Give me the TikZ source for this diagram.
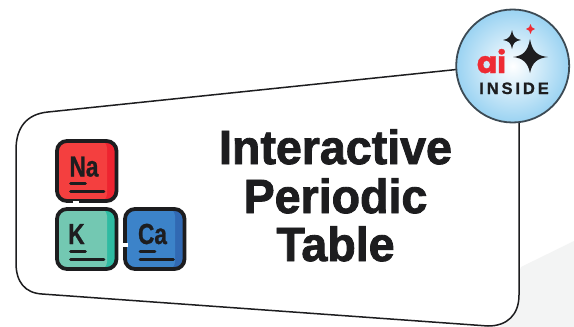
\documentclass[tikz,border=0pt]{standalone}
\usepackage{fontspec}
\setmainfont{Liberation Sans}
\newfontfamily\titlefont[FakeStretch=0.97,FakeBold=1.8]{Liberation Sans Bold}
\newfontfamily\symfont[FakeStretch=0.78,FakeBold=0.9]{Liberation Sans Bold}
\newfontfamily\aifont[FakeBold=1.2]{Poppins Bold}
\newfontfamily\insidefont[FakeBold=1]{Liberation Sans Bold}
\definecolor{ink}{HTML}{1D1D1F}
\definecolor{nared}{HTML}{F43F3F}
\definecolor{nadark}{HTML}{EE2430}
\definecolor{kgreen}{HTML}{73C8B2}
\definecolor{kdark}{HTML}{2FBBA2}
\definecolor{cablue}{HTML}{3C83C9}
\definecolor{cadark}{HTML}{3169B3}
\definecolor{skyedge}{HTML}{9BD3F2}
\definecolor{starred}{HTML}{EE2B33}
\definecolor{pale}{HTML}{F3F4F4}
\tikzset{
  x=1pt,y=-1pt,
  title/.style={font=\titlefont\fontsize{48}{48}\selectfont,text=ink,inner sep=0pt,anchor=base},
  sym/.style={font=\symfont\fontsize{29}{29}\selectfont,text=ink,inner sep=0pt,anchor=base},
  tileedge/.style={draw=ink,line width=3.8pt,rounded corners=10pt},
  tick/.style={draw=ink,line width=2.8pt,line cap=round},
}
\newcommand{\tile}[6]{% x y fill dark name tickoffset
  \begin{scope}[shift={(#1,#2)}]
    \fill[#4,rounded corners=10pt] (0,0) rectangle (59.5,60);
    \fill[#3,rounded corners=7pt] (0,0) rectangle (50,60);
    \draw[tileedge] (0,0) rectangle (59.5,60);
    \draw[tick] (#6,42.5) -- ++(15,0);
    \draw[tick] (#6,50.5) -- ++(33.5,0);
    \coordinate (#5) at (30,30);
  \end{scope}
}
\begin{document}
\begin{tikzpicture}
\useasboundingbox (0,0) rectangle (574,327);
\fill[white] (0,0) rectangle (574,327);
\fill[pale] (500,327) -- (521,267) -- (574,241) -- (574,327) -- cycle;
\draw[ink,line width=1.5pt,fill=white]
  (16,150) .. controls (16,127) and (27,114) .. (48,112)
  -- (519,63) -- (519,295)
  .. controls (519,315) and (507,326) .. (488,326)
  -- (42,294)
  .. controls (25,293) and (16,282) .. (16,263) -- cycle;
\node[title] (l1) at (335.5,164) {Interactive};
\node[title] (l2) at (335.5,213) {Periodic};
\node[title] (l3) at (335.5,261) {Table};
\tile{57}{141}{nared}{nadark}{na}{13.5}
\tile{57}{209}{kgreen}{kdark}{k}{13.5}
\tile{125}{209}{cablue}{cadark}{ca}{15}
\fill[white] (73,201) rectangle (79,205);
\fill[white] (122.5,243) rectangle (127.5,247);
\node[sym] (natext) at (84,176.5) {Na};
\node[sym] (ktext) at (76.5,244) {K};
\node[sym] (catext) at (152.5,244) {Ca};
\shade[inner color=white,outer color=skyedge,draw=none] (512.7,66) circle (56);
\draw[ink!75!skyedge,line width=1.8pt] (512.7,66) circle (56.5);
\fill[ink] (530,39) .. controls (532,51) and (537,56) .. (548,57)
  .. controls (537,58) and (532,63) .. (530,73)
  .. controls (528,63) and (523,58) .. (513,57)
  .. controls (523,56) and (528,51) .. (530,39) -- cycle;
\fill[ink] (512,30) .. controls (513,36) and (515,39) .. (521,40)
  .. controls (515,41) and (513,43) .. (512,49)
  .. controls (511,43) and (509,41) .. (503,40)
  .. controls (509,39) and (511,36) .. (512,30) -- cycle;
\fill[starred] (530.5,24) .. controls (531,27) and (532,28) .. (535,29)
  .. controls (532,30) and (531,31) .. (530.5,34)
  .. controls (530,31) and (529,30) .. (526,29)
  .. controls (529,28) and (530,27) .. (530.5,24) -- cycle;
\node[font=\aifont\fontsize{30}{30}\selectfont,text=starred,inner sep=0pt,anchor=base] (ai) at (491.5,73) {ai};
\node[font=\insidefont\fontsize{16.5}{16.5}\selectfont,text=ink,inner sep=0pt,anchor=base] (inside) at (514,94) {I\kern2.9pt N\kern2.9pt S\kern2.9pt I\kern2.9pt D\kern2.9pt E};
\end{tikzpicture}
\end{document}
